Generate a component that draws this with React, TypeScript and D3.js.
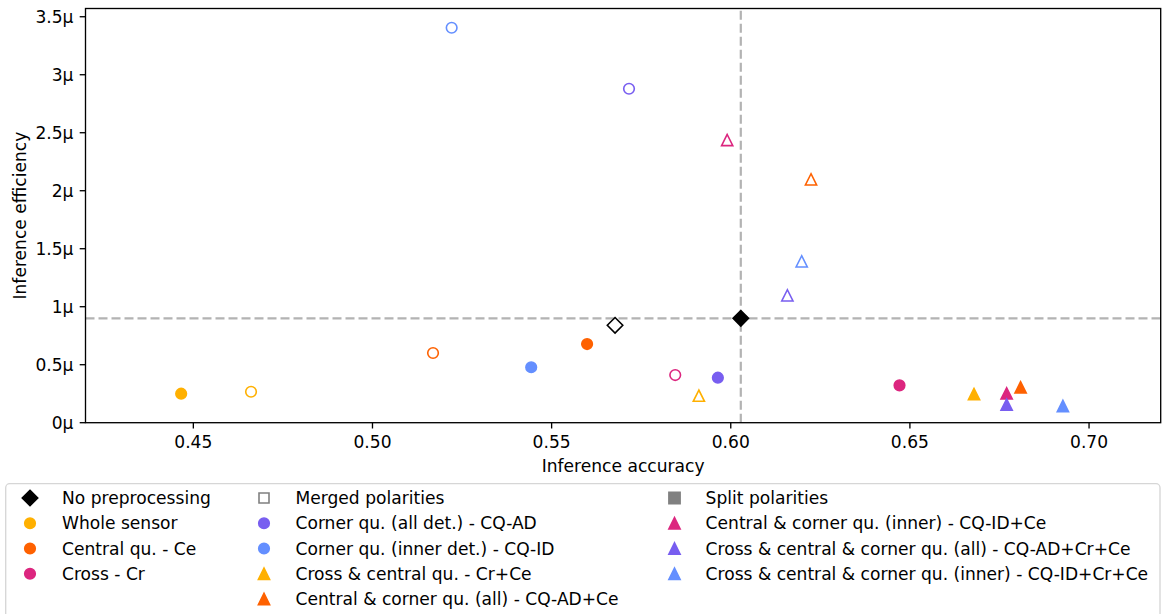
import * as d3 from 'd3';
import React from 'react';

// chart: inference efficiency vs accuracy per preprocessing method

const methods = [
  'No preprocessing',
  'Whole sensor',
  'Central qu. - Ce',
  'Cross - Cr',
  'Corner qu. (all det.) - CQ-AD',
  'Corner qu. (inner det.) - CQ-ID',
  'Cross & central qu. - Cr+Ce',
  'Central & corner qu. (all) - CQ-AD+Ce',
  'Central & corner qu. (inner) - CQ-ID+Ce',
  'Cross & central & corner qu. (all) - CQ-AD+Cr+Ce',
  'Cross & central & corner qu. (inner) - CQ-ID+Cr+Ce',
];
const colors = [
  '#000000', '#FFB000', '#FE6100', '#DC267F', '#785EF0', '#648FFF',
  '#FFB000', '#FE6100', '#DC267F', '#785EF0', '#648FFF',
];
const shapes = [
  'diamond', 'circle', 'circle', 'circle', 'circle', 'circle',
  'triangle', 'triangle', 'triangle', 'triangle', 'triangle',
];

// merged polarities (open markers), efficiency in µ
const mergedAccuracy = [0.5677, 0.4661, 0.5169, 0.5845, 0.5716, 0.5221, 0.5911, 0.6224, 0.599, 0.6158, 0.6198];
const mergedEfficiency = [0.84, 0.267, 0.601, 0.411, 2.879, 3.405, 0.233, 2.098, 2.437, 1.098, 1.391];
// split polarities (filled markers)
const splitAccuracy = [0.6028, 0.4466, 0.5599, 0.6471, 0.5964, 0.5443, 0.6679, 0.6809, 0.677, 0.677, 0.6927];
const splitEfficiency = [0.90, 0.25, 0.678, 0.322, 0.388, 0.478, 0.247, 0.305, 0.253, 0.155, 0.144];

const xTicks = [0.45, 0.5, 0.55, 0.6, 0.65, 0.7];
const yTicks = [0, 0.5, 1, 1.5, 2, 2.5, 3, 3.5];
const xDomain = [0.4199, 0.7200];
const yDomain = [0, 3.571];

// legend columns: method index, or a polarity key
const legendColumns = [
  [0, 1, 2, 3],
  ['merged', 4, 5, 6, 7],
  ['split', 8, 9, 10],
];

const W = 1168;
const H = 614;
const margin = { top: 8.5, right: 7.3, bottom: 191.3, left: 85.5 };
const FONT = 'DejaVu Sans, sans-serif';
const FS = 17.1;

function markerPath(shape, s) {
  if (shape === 'circle') {
    return `M${s},0A${s},${s} 0 1,1 ${-s},0A${s},${s} 0 1,1 ${s},0Z`;
  }
  if (shape === 'triangle') {
    return `M0,${-s}L${-s},${s}L${s},${s}Z`;
  }
  if (shape === 'square') {
    return `M${-s},${-s}H${s}V${s}H${-s}Z`;
  }
  const d = s * 1.38;
  return `M0,${-d}L${d},0L0,${d}L${-d},0Z`;
}

const Marker = ({ x, y, shape, color, filled }) => (
  <path
    transform={`translate(${x},${y})`}
    d={markerPath(shape, shape === 'circle' ? 5.3 : 5.6)}
    fill={filled ? color : 'none'}
    stroke={color}
    strokeWidth={1.6}
  />
);

const App = () => {
  const x = d3.scaleLinear().domain(xDomain).range([margin.left, W - margin.right]);
  const y = d3.scaleLinear().domain(yDomain).range([H - margin.bottom, margin.top]);
  const [x0, x1] = x.range();
  const [y0, y1] = y.range();
  const fmtX = d3.format('.2f');

  const rowY = (i) => 498 + i * 25.25;
  const colX = [30, 264, 674.5];
  const textX = [62, 295.5, 705.6];

  return (
    <div style={{ position: 'absolute', left: 0, top: 0 }}>
      <svg width={W} height={H} style={{ display: 'block', fontFamily: FONT }}>
        <rect width={W} height={H} fill="#fff" />

        {/* reference lines through the no-preprocessing split point */}
        <line x1={x0} x2={x1} y1={y(splitEfficiency[0])} y2={y(splitEfficiency[0])}
          stroke="#b3b3b3" strokeWidth={2.2} strokeDasharray="9,4" />
        <line x1={x(splitAccuracy[0])} x2={x(splitAccuracy[0])} y1={y0} y2={y1}
          stroke="#b3b3b3" strokeWidth={2.2} strokeDasharray="9,4" />

        {methods.map((m, i) => (
          <g key={m}>
            <Marker x={x(mergedAccuracy[i])} y={y(mergedEfficiency[i])}
              shape={shapes[i]} color={colors[i]} filled={false} />
            <Marker x={x(splitAccuracy[i])} y={y(splitEfficiency[i])}
              shape={shapes[i]} color={colors[i]} filled={true} />
          </g>
        ))}

        {/* axes frame */}
        <rect x={x0} y={y1} width={x1 - x0} height={y0 - y1} fill="none" stroke="#000" strokeWidth={1.33} />

        {xTicks.map(t => (
          <g key={t} transform={`translate(${x(t)},${y0})`}>
            <line y2={5.8} stroke="#000" strokeWidth={1.33} />
            <text y={25.8} textAnchor="middle" fontSize={FS}>{fmtX(t)}</text>
          </g>
        ))}
        {yTicks.map(t => (
          <g key={t} transform={`translate(${x0},${y(t)})`}>
            <line x2={-5.8} stroke="#000" strokeWidth={1.33} />
            <text x={-12} dy="0.36em" textAnchor="end" fontSize={FS}>{`${t}µ`}</text>
          </g>
        ))}

        <text x={(x0 + x1) / 2} y={471.7} textAnchor="middle" fontSize={FS}>Inference accuracy</text>
        <text transform={`translate(26,${(y0 + y1) / 2}) rotate(-90)`} textAnchor="middle" fontSize={FS}>
          Inference efficiency
        </text>

        {/* legend */}
        <rect x={5.7} y={483.7} width={1154.3} height={160} rx={4} fill="#fff" stroke="#d6d6d6" strokeWidth={1.33} />
        {legendColumns.map((col, c) =>
          col.map((item, r) => {
            let label, marker;
            if (item === 'merged') {
              label = 'Merged polarities';
              marker = <path transform={`translate(${colX[c]},${rowY(r)})`} d={markerPath('square', 5)}
                fill="none" stroke="#808080" strokeWidth={1.6} />;
            } else if (item === 'split') {
              label = 'Split polarities';
              marker = <path transform={`translate(${colX[c]},${rowY(r)})`} d={markerPath('square', 5.6)}
                fill="#808080" stroke="#808080" strokeWidth={1.6} />;
            } else {
              label = methods[item];
              marker = <Marker x={colX[c]} y={rowY(r)} shape={shapes[item]} color={colors[item]} filled={true} />;
            }
            return (
              <g key={label}>
                {marker}
                <text x={textX[c]} y={rowY(r)} dy="0.36em" fontSize={FS}>{label}</text>
              </g>
            );
          })
        )}
      </svg>
    </div>
  );
};

export default App;
